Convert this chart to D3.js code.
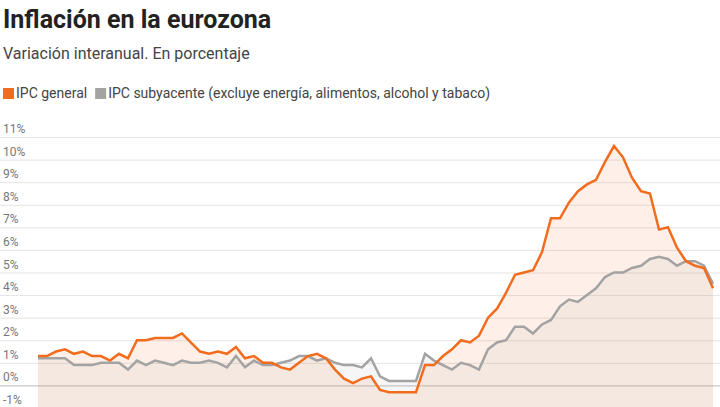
<!DOCTYPE html>
<html><head><meta charset="utf-8">
<script src="https://cdn.jsdelivr.net/npm/d3@7"></script>
<style>
body{margin:0;background:#fff;font-family:Roboto,"Noto Sans",sans-serif;}
</style></head>
<body><svg width="720" height="407"></svg>
<script>
// monthly, Jun 2017 - Sep 2023
let ipcGeneral = [1.3,1.3,1.5,1.6,1.4,1.5,1.3,
  1.3,1.1,1.4,1.2,2.0,2.0,2.1,2.1,2.1,2.3,1.9,1.5,
  1.4,1.5,1.4,1.7,1.2,1.3,1.0,1.0,0.8,0.7,1.0,1.3,
  1.4,1.2,0.7,0.3,0.1,0.3,0.4,-0.2,-0.3,-0.3,-0.3,-0.3,
  0.9,0.9,1.3,1.6,2.0,1.9,2.2,3.0,3.4,4.1,4.9,5.0,
  5.1,5.9,7.4,7.4,8.1,8.6,8.9,9.1,9.9,10.6,10.1,9.2,
  8.6,8.5,6.9,7.0,6.1,5.5,5.3,5.2,4.3];
let ipcSubyacente = [1.2,1.2,1.2,1.2,0.9,0.9,0.9,
  1.0,1.0,1.0,0.7,1.1,0.9,1.1,1.0,0.9,1.1,1.0,1.0,
  1.1,1.0,0.8,1.3,0.8,1.1,0.9,0.9,1.0,1.1,1.3,1.3,
  1.1,1.2,1.0,0.9,0.9,0.8,1.2,0.4,0.2,0.2,0.2,0.2,
  1.4,1.1,0.9,0.7,1.0,0.9,0.7,1.6,1.9,2.0,2.6,2.6,
  2.3,2.7,2.9,3.5,3.8,3.7,4.0,4.3,4.8,5.0,5.0,5.2,
  5.3,5.6,5.7,5.6,5.3,5.5,5.5,5.3,4.5];
let yTicks = d3.range(-1, 12);

let svg = d3.select('svg');
let orange = '#f26c1e', gray = '#a3a3a3';

svg.append('text').attr('x', 3).attr('y', 28).text('Inflación en la eurozona')
  .style('font-size', '25px').style('font-weight', 'bold').style('fill', '#222');
svg.append('text').attr('x', 3).attr('y', 59).text('Variación interanual. En porcentaje')
  .style('font-size', '16px').style('fill', '#444');

let leg = [['IPC general', orange], ['IPC subyacente (excluye energía, alimentos, alcohol y tabaco)', gray]];
let lx = 3;
leg.forEach(d => {
  svg.append('rect').attr('x', lx).attr('y', 88).attr('width', 11).attr('height', 11).attr('fill', d[1]);
  let t = svg.append('text').attr('x', lx + 13).attr('y', 98).text(d[0])
    .style('font-size', '14px').style('fill', '#444');
  lx += 13 + t.node().getComputedTextLength() + 8;
});

let x = d3.scaleLinear().domain([0, ipcGeneral.length - 1]).range([38, 713]);
let y = d3.scaleLinear().domain([-1, 11]).range([408, 137]);

svg.selectAll('line.grid').data(yTicks).enter().append('line')
  .attr('x1', 0).attr('x2', 720)
  .attr('y1', d => y(d) + 0.5).attr('y2', d => y(d) + 0.5)
  .style('stroke', d => d == 0 ? '#bbb' : '#e4e4e4');
svg.selectAll('text.tick').data(yTicks).enter().append('text')
  .attr('x', 3).attr('y', d => y(d) - 4).text(d => d + '%')
  .style('font-size', '12px').style('fill', '#777');

[[ipcGeneral, orange], [ipcSubyacente, gray]].forEach(s => {
  svg.append('path').datum(s[0])
    .attr('d', d3.area().x((d, i) => x(i)).y0(y(-1)).y1(d => y(d)))
    .style('fill', s[1]).style('opacity', 0.1);
});
[[ipcSubyacente, gray], [ipcGeneral, orange]].forEach(s => {
  svg.append('path').datum(s[0])
    .attr('d', d3.line().x((d, i) => x(i)).y(d => y(d)))
    .style('fill', 'none').style('stroke', s[1]).style('stroke-width', 2.5);
});
</script></body></html>
